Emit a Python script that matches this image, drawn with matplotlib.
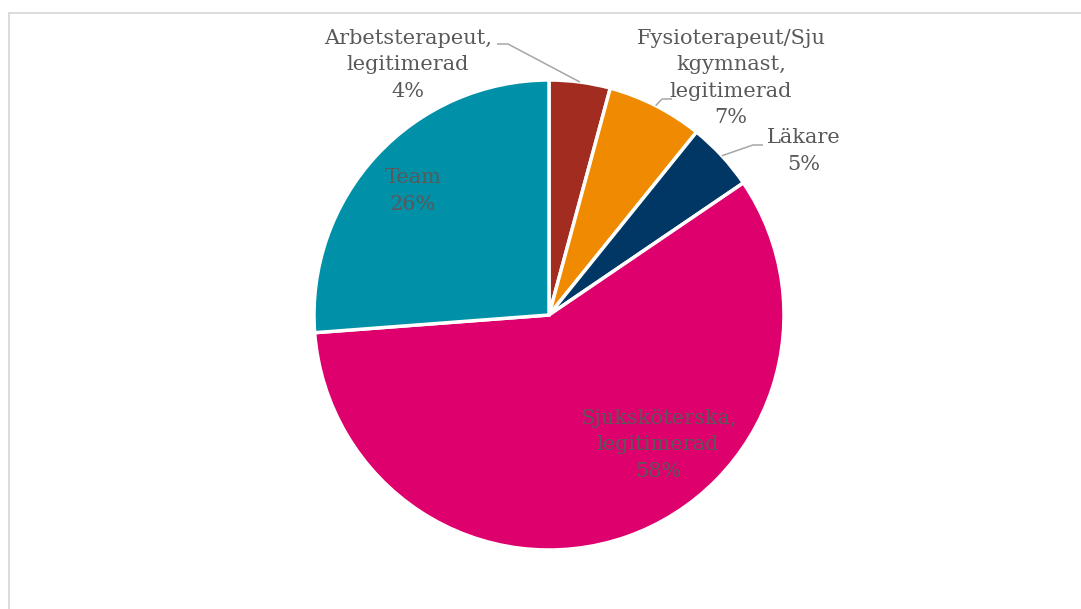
import numpy as np
import matplotlib.pyplot as plt
from matplotlib.lines import Line2D

# Yrkesgrupper (andel i procent)
categories = ["Arbetsterapeut,\nlegitimerad", "Fysioterapeut/Sju\nkgymnast,\nlegitimerad",
              "Läkare", "Sjuksköterska,\nlegitimerad", "Team"]
values = [4.2, 6.6, 4.7, 58.3, 26.2]
colors = ["#A32C20", "#F08A00", "#003764", "#DE006D", "#0090A8"]

W, H = 1081, 609
fig = plt.figure(figsize=(W / 100, H / 100), dpi=100)
ax = fig.add_axes([0, 0, 1, 1])

cx, cy, r = 549, H - 315, 235
wedges, _ = ax.pie(values, colors=colors, startangle=90, counterclock=False,
                   center=(cx, cy), radius=r, frame=True,
                   wedgeprops=dict(edgecolor="white", linewidth=2.5))
ax.set_xlim(0, W)
ax.set_ylim(0, H)
ax.set_aspect("equal")
ax.axis("off")

text_color = "#595959"
font = dict(family="DejaVu Serif", fontsize=15, color=text_color,
            ha="center", va="center", linespacing=1.5)

# label centre positions (top-origin pixels)
label_pos = [(408, 65), (731, 78), (804, 151), (658, 445), (413, 191)]
# leader line: (bend point, end point), None for labels inside the pie
leaders = [((508, 44), (497, 44)), ((662, 99), (672, 99)), ((753, 145), (763, 145)), None, None]

total = sum(values)
for w, cat, v, (lx, ly), ld in zip(wedges, categories, values, label_pos, leaders):
    ax.text(lx, H - ly, f"{cat}\n{v / total * 100:.0f}%", **font)
    if ld is not None:
        mid = np.deg2rad((w.theta1 + w.theta2) / 2)
        ax0, ay0 = cx + r * np.cos(mid), cy + r * np.sin(mid)
        (bx, by), (ex, ey) = ld
        ax.plot([ax0, bx, ex], [ay0, H - by, H - ey], color="#A6A6A6", lw=1.1,
                solid_capstyle="butt")

# chart area border
fig.add_artist(Line2D([8.5 / W, 1], [1 - 12.5 / H, 1 - 12.5 / H], transform=fig.transFigure,
                      color="#D9D9D9", lw=1.3))
fig.add_artist(Line2D([8.5 / W, 8.5 / W], [0, 1 - 12.5 / H], transform=fig.transFigure,
                      color="#D9D9D9", lw=1.3))

fig.savefig("out.png", dpi=100)
